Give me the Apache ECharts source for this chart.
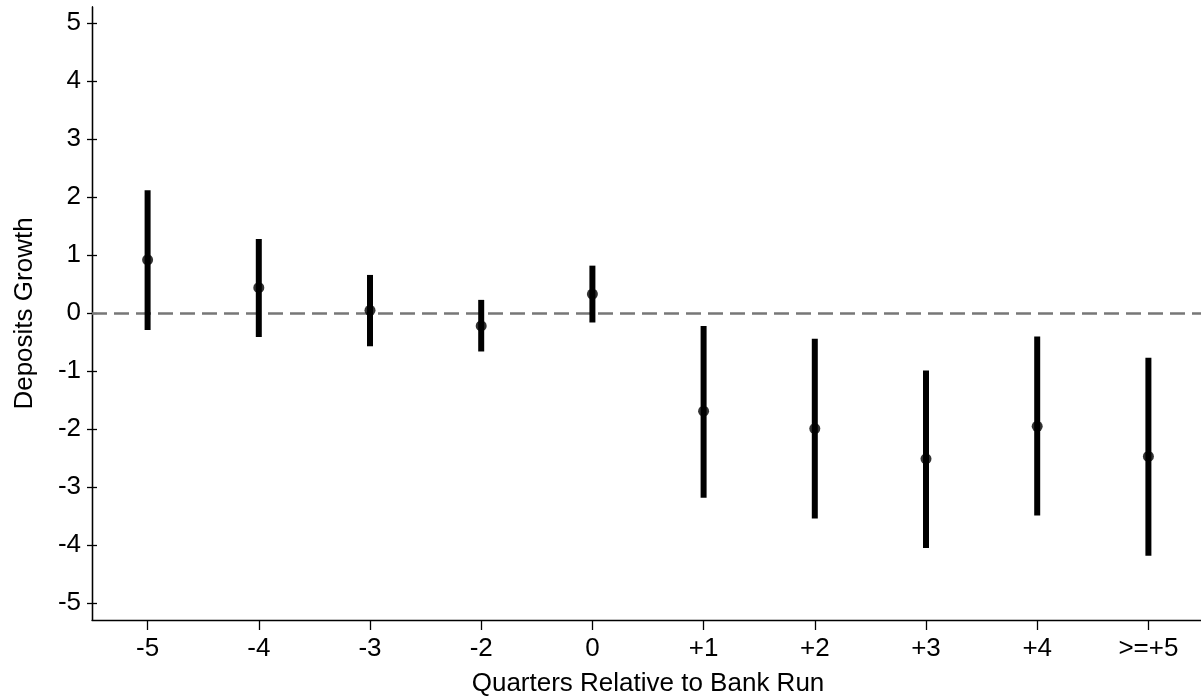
<!DOCTYPE html>
<html>
<head>
<meta charset="utf-8">
<script src="https://cdn.jsdelivr.net/npm/echarts@6/dist/echarts.min.js"></script>
<style>
  html, body { margin: 0; padding: 0; background: #fff; }
  #main { width: 1201px; height: 696px; }
</style>
</head>
<body>
<div id="main"></div>
<script>
// data
var categories = ['-5', '-4', '-3', '-2', '0', '+1', '+2', '+3', '+4', '>=+5'];
var estimates = [0.92, 0.44, 0.05, -0.22, 0.33, -1.69, -1.99, -2.51, -1.95, -2.47];
var lower = [-0.29, -0.41, -0.57, -0.66, -0.16, -3.18, -3.54, -4.05, -3.49, -4.18];
var upper = [2.12, 1.28, 0.66, 0.23, 0.82, -0.22, -0.44, -0.99, -0.40, -0.77];
var yTicks = [-5, -4, -3, -2, -1, 0, 1, 2, 3, 4, 5];

var font = 'Liberation Sans, Arial, sans-serif';

var ciData = categories.map(function (c, i) {
    return [i, lower[i], upper[i]];
});
var pointData = categories.map(function (c, i) {
    return [i, estimates[i]];
});

var myChart = echarts.init(document.getElementById('main'));

var yBase = {
    type: 'value',
    position: 'left',
    min: -5.29,
    max: 5.28,
    splitLine: { show: false },
    axisLine: { show: true, onZero: false, lineStyle: { color: '#000', width: 1.3 } }
};

myChart.setOption({
    animation: false,
    backgroundColor: '#fff',
    grid: { left: 92, right: -3, top: 7, bottom: 76, containLabel: false, outerBoundsMode: 'none' },
    xAxis: {
        type: 'category',
        data: categories,
        boundaryGap: true,
        name: 'Quarters Relative to Bank Run',
        nameLocation: 'middle',
        nameGap: 51,
        nameTextStyle: { color: '#000', fontSize: 26, fontFamily: font },
        axisLine: { onZero: false, lineStyle: { color: '#000', width: 1.3 } },
        axisTick: { show: true, alignWithLabel: true, length: 10, lineStyle: { color: '#000', width: 1.3 } },
        axisLabel: { color: '#000', fontSize: 26, fontFamily: font, margin: 16 },
        splitLine: { show: false }
    },
    yAxis: [
        Object.assign({}, yBase, {
            name: 'Deposits Growth',
            nameLocation: 'middle',
            nameGap: 54,
            nameTextStyle: { color: '#000', fontSize: 26, fontFamily: font },
            axisTick: { show: true, length: 5, customValues: yTicks, lineStyle: { color: '#000', width: 1.3 } },
            axisLabel: { color: '#000', fontSize: 26, fontFamily: font, margin: 11, customValues: yTicks }
        }),
        Object.assign({}, yBase, {
            axisTick: { show: true, inside: true, length: 5, customValues: yTicks, lineStyle: { color: '#000', width: 1.3 } },
            axisLabel: { show: false, customValues: yTicks }
        })
    ],
    series: [
        {
            name: 'ci',
            type: 'custom',
            data: ciData,
            z: 3,
            renderItem: function (params, api) {
                var lo = api.coord([api.value(0), api.value(1)]);
                var hi = api.coord([api.value(0), api.value(2)]);
                return {
                    type: 'line',
                    shape: { x1: lo[0], y1: lo[1], x2: hi[0], y2: hi[1] },
                    style: { stroke: '#000', lineWidth: 6 }
                };
            },
            markLine: {
                silent: true,
                symbol: 'none',
                label: { show: false },
                lineStyle: { color: '#777', width: 2.7, type: [15, 7] },
                data: [{ yAxis: 0 }],
                z: 1
            }
        },
        {
            name: 'estimate',
            type: 'scatter',
            data: pointData,
            symbol: 'circle',
            symbolSize: 11,
            itemStyle: { color: '#000' },
            z: 4
        }
    ]
});
</script>
</body>
</html>
